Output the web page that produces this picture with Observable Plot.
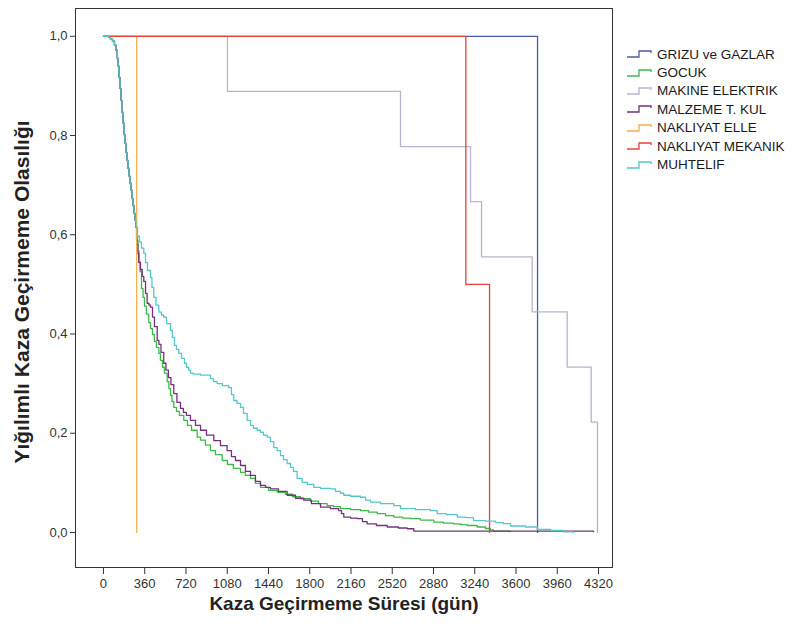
<!DOCTYPE html>
<html>
<head>
<meta charset="utf-8">
<script src="https://cdn.jsdelivr.net/npm/d3@7"></script>
<script src="https://cdn.jsdelivr.net/npm/@observablehq/plot@0.6"></script>
<style>
  html, body { margin: 0; padding: 0; background: #fff; overflow: hidden; }
  #wrap { position: relative; width: 792px; height: 627px; overflow: hidden; }
  #legend { position: absolute; left: 626px; top: 45px; font-family: "Liberation Sans", Arial, sans-serif; font-size: 13.5px; color: #1a1a1a; }
  .row { height: 18.4px; display: flex; align-items: center; white-space: nowrap; }
  .row svg { flex: none; margin-right: 3px; }
</style>
</head>
<body>
<div id="wrap">
  <div id="chart"></div>
  <div id="legend"></div>
</div>
<script>
// ---- Data (time in days, survival probability) ----
const gruplar = ["GRIZU ve GAZLAR", "GOCUK", "MAKINE ELEKTRIK", "MALZEME T. KUL", "NAKLIYAT ELLE", "NAKLIYAT MEKANIK", "MUHTELIF"];
const renkler = ["#4a5ea8", "#3fb84a", "#bab2d4", "#74307c", "#f4b04a", "#e8423f", "#55c7c9"];

const xTicks = [0, 360, 720, 1080, 1440, 1800, 2160, 2520, 2880, 3240, 3600, 3960, 4320];
const yTicks = [0, 0.2, 0.4, 0.6, 0.8, 1.0];

// shared early descent of the three large groups
const ortakBaslangic = [
  [0,1],[9,1],[26,1],[44,0.998],[61,0.994],[79,0.990],[96,0.982],[109,0.972],[120,0.956],
  [127,0.940],[135,0.917],[144,0.895],[153,0.871],[161,0.847],[170,0.825],[179,0.802],
  [188,0.784],[196,0.766],[205,0.750],[214,0.734],[223,0.718],[231,0.704],[240,0.690],
  [249,0.673],[257,0.659],[266,0.643],[275,0.629],[284,0.615]
];

const grizu = [[0,1],[3788,0]];
const nakliyatElle = [[0,1],[290,0]];
const nakliyatMekanik = [[0,1],[3162,0.5],[3369,0]];
const makineElektrik = [[0,1],[1082,0.8889],[2592,0.7778],[3203,0.6667],[3299,0.5556],[3741,0.4444],[4047,0.3333],[4256,0.2222],[4311,0]];

const gocuk = [
  [288,0.589],[301,0.567],[310,0.546],[319,0.526],[332,0.492],[345,0.474],[358,0.456],[375,0.440],
  [395,0.423],[410,0.411],[428,0.399],[445,0.385],[462,0.373],[483,0.361],[497,0.347],[515,0.333],
  [532,0.321],[556,0.304],[571,0.290],[585,0.276],[598,0.264],[614,0.252],[637,0.244],[663,0.236],
  [701,0.226],[733,0.216],[768,0.206],[818,0.192],[847,0.186],[890,0.176],[934,0.165],[977,0.157],
  [1036,0.145],[1082,0.137],[1134,0.129],[1196,0.121],[1239,0.115],[1283,0.109],[1326,0.099],
  [1370,0.091],[1440,0.085],[1516,0.081],[1588,0.077],[1649,0.072],[1719,0.068],[1806,0.063],
  [1876,0.058],[1952,0.054],[2007,0.052],[2068,0.048],[2156,0.046],[2243,0.044],[2313,0.041],
  [2389,0.038],[2461,0.034],[2534,0.031],[2610,0.029],[2679,0.028],[2766,0.025],[2883,0.021],
  [2967,0.019],[3054,0.0175],[3116,0.016],[3174,0.014],[3261,0.011],[3334,0.008],[3377,0.0054],
  [3404,0.0026],[3552,0.0016]
];

const malzeme = [
  [294,0.580],[301,0.562],[308,0.544],[323,0.530],[338,0.516],[352,0.506],[367,0.482],[381,0.462],
  [397,0.458],[410,0.454],[428,0.434],[445,0.415],[469,0.387],[484,0.379],[502,0.363],[526,0.341],
  [545,0.327],[567,0.312],[589,0.298],[614,0.280],[641,0.262],[672,0.250],[698,0.242],[724,0.236],
  [759,0.226],[803,0.216],[847,0.206],[899,0.196],[963,0.185],[1021,0.175],[1079,0.165],[1117,0.153],
  [1152,0.145],[1196,0.135],[1239,0.123],[1283,0.115],[1326,0.103],[1370,0.095],[1414,0.091],
  [1457,0.088],[1527,0.083],[1603,0.075],[1676,0.069],[1748,0.065],[1815,0.058],[1894,0.051],
  [1981,0.048],[2053,0.044],[2077,0.038],[2097,0.031],[2156,0.029],[2214,0.028],[2260,0.022],
  [2301,0.0175],[2382,0.014],[2476,0.011],[2574,0.009],[2650,0.0075],[2708,0.0026],[4276,0.0016]
];

const muhtelif = [
  [297,0.597],[314,0.585],[332,0.573],[352,0.5625],[367,0.544],[384,0.528],[410,0.514],[423,0.494],
  [439,0.474],[458,0.458],[483,0.444],[506,0.438],[526,0.434],[550,0.421],[585,0.407],[602,0.393],
  [620,0.377],[637,0.369],[657,0.361],[681,0.351],[707,0.341],[724,0.333],[744,0.327],[759,0.321],
  [785,0.319],[847,0.317],[934,0.310],[960,0.304],[992,0.300],[1038,0.296],[1093,0.292],
  [1117,0.278],[1137,0.266],[1165,0.260],[1196,0.252],[1222,0.240],[1254,0.226],[1283,0.216],
  [1309,0.210],[1341,0.206],[1370,0.202],[1396,0.196],[1429,0.192],[1457,0.183],[1486,0.171],
  [1516,0.165],[1545,0.155],[1571,0.147],[1603,0.139],[1632,0.131],[1658,0.123],[1690,0.109],
  [1734,0.101],[1780,0.097],[1835,0.091],[1894,0.089],[1981,0.088],[2025,0.083],[2068,0.079],
  [2097,0.075],[2156,0.073],[2243,0.071],[2287,0.065],[2330,0.061],[2417,0.058],[2534,0.054],
  [2592,0.048],[2723,0.046],[2854,0.044],[2912,0.038],[2993,0.036],[3087,0.031],[3159,0.030],
  [3229,0.024],[3334,0.023],[3421,0.020],[3491,0.018],[3552,0.013],[3683,0.011],[3785,0.006],
  [3901,0.004],[4017,0.001],[4102,0]
];

// ---- Build series ----
const seriler = [
  grizu,
  ortakBaslangic.concat(gocuk),
  makineElektrik,
  ortakBaslangic.concat(malzeme),
  nakliyatElle,
  nakliyatMekanik,
  ortakBaslangic.concat(muhtelif)
];

const virgul = d => d.toFixed(1).replace(".", ",");

const lineMarks = seriler.map((s, i) =>
  Plot.line(s, {x: d => d[0], y: d => d[1], stroke: renkler[i], strokeWidth: 1.3, curve: "step-after"})
);

const chart = Plot.plot({
  width: 792,
  height: 627,
  marginLeft: 75,
  marginRight: 180,
  marginTop: 8,
  marginBottom: 60,
  style: {fontFamily: "'Liberation Sans', Arial, sans-serif", fontSize: "13px", color: "#333", background: "#fff"},
  x: {domain: [-244, 4442]},
  y: {domain: [-0.0706, 1.056]},
  marks: [
    Plot.axisX(xTicks, {tickSize: 7, tickPadding: 4, label: null, tickFormat: d => String(d), fontSize: 13, stroke: "#333"}),
    Plot.axisY(yTicks, {tickSize: 5, tickPadding: 3, label: null, tickFormat: virgul, fontSize: 13, stroke: "#333"}),
    ...lineMarks,
    Plot.frame({stroke: "#333", strokeWidth: 1}),
    Plot.text(["Kaza Geçirmeme Süresi (gün)"], {frameAnchor: "bottom", dy: 42, fontSize: 19, fontWeight: "bold", fill: "#222", textAnchor: "middle"}),
    Plot.text(["Yığılımlı Kaza Geçirmeme Olasılığı"], {frameAnchor: "left", dx: -53, dy: 4, rotate: -90, fontSize: 21, fontWeight: "bold", fill: "#222", textAnchor: "middle"})
  ]
});
document.getElementById("chart").appendChild(chart);

// ---- Legend ----
const legend = document.getElementById("legend");
gruplar.forEach((g, i) => {
  const row = document.createElement("div");
  row.className = "row";
  row.innerHTML = `<svg width="28" height="14"><path d="M1,10 H13 V4 H25 V6" fill="none" stroke="${renkler[i]}" stroke-width="1.3"/></svg><span>${g}</span>`;
  legend.appendChild(row);
});
</script>
</body>
</html>
